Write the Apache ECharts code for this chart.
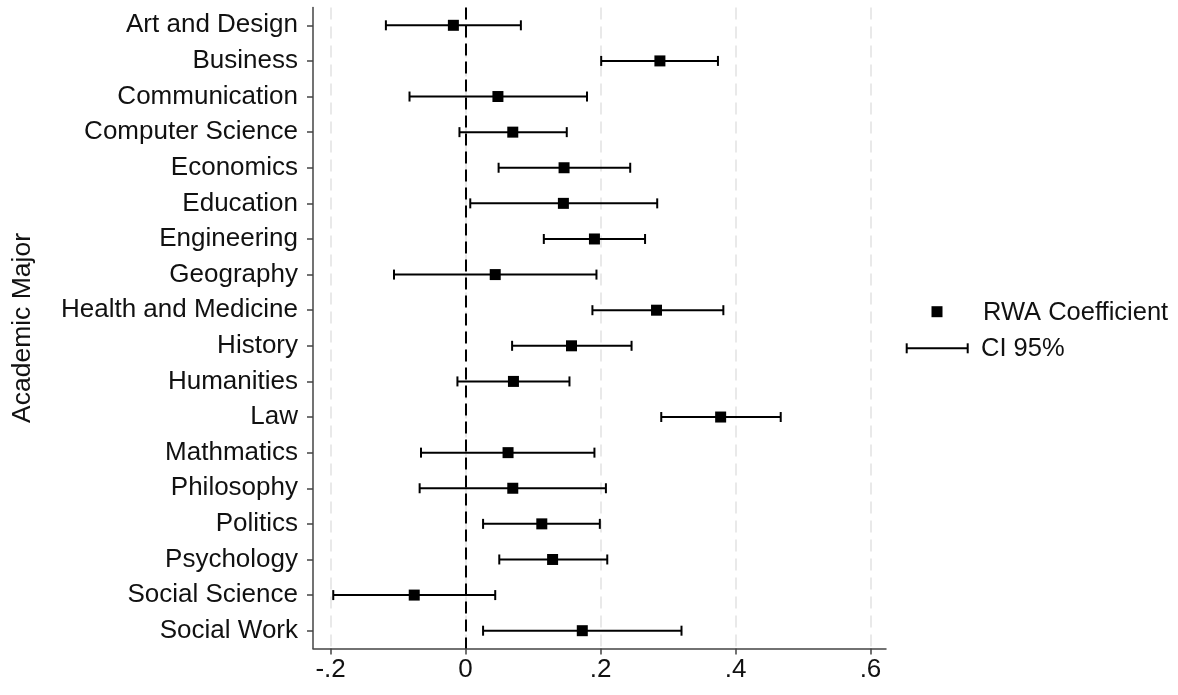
<!DOCTYPE html>
<html>
<head>
<meta charset="utf-8">
<script src="https://cdn.jsdelivr.net/npm/echarts@6/dist/echarts.min.js"></script>
<style>
html,body{margin:0;padding:0;background:#fff;}
#chart{width:1178px;height:695px;}
</style>
</head>
<body>
<div id="chart"></div>
<script>
const categories = ['Art and Design','Business','Communication','Computer Science','Economics','Education','Engineering','Geography','Health and Medicine','History','Humanities','Law','Mathmatics','Philosophy','Politics','Psychology','Social Science','Social Work'];
const coef   = [-0.018, 0.288, 0.048, 0.070, 0.146, 0.145, 0.191, 0.044, 0.283, 0.157, 0.071, 0.378, 0.063, 0.070, 0.113, 0.129, -0.076, 0.173];
const ciLow  = [-0.118, 0.201, -0.083, -0.009, 0.049, 0.007, 0.116, -0.106, 0.188, 0.069, -0.012, 0.290, -0.066, -0.068, 0.026, 0.050, -0.196, 0.026];
const ciHigh = [0.082, 0.374, 0.180, 0.150, 0.244, 0.284, 0.266, 0.194, 0.382, 0.246, 0.154, 0.467, 0.191, 0.208, 0.199, 0.210, 0.044, 0.320];
const tickValues = [-0.2, 0, 0.2, 0.4, 0.6];
const tickLabels = ['-.2', '0', '.2', '.4', '.6'];

const FONT = '"Liberation Sans", Arial, Helvetica, sans-serif';
const chart = echarts.init(document.getElementById('chart'), null, {renderer: 'canvas'});

const ciData = categories.map((c, i) => [ciLow[i], ciHigh[i], i]);
const ptData = categories.map((c, i) => [coef[i], i]);

function labelFor(v) {
  for (let k = 0; k < tickValues.length; k++) {
    if (Math.abs(v - tickValues[k]) < 1e-6) return tickLabels[k];
  }
  return '';
}

const option = {
  backgroundColor: '#fff',
  animation: false,
  grid: {left: 313, right: 292, top: 7.5, bottom: 46.5, containLabel: false},
  xAxis: {
    type: 'value',
    min: -0.226,
    max: 0.623,
    splitNumber: 4,
    axisLine: {show: true, onZero: false, lineStyle: {color: '#444', width: 1.5}},
    axisTick: {show: true, length: 6, customValues: tickValues, lineStyle: {color: '#444', width: 1.5}},
    axisLabel: {customValues: tickValues, formatter: labelFor, color: '#111', fontSize: 26, fontFamily: FONT, margin: 8},
    splitLine: {show: true, lineStyle: {color: '#e9e9e9', width: 2, type: [12, 7]}}
  },
  yAxis: {
    type: 'category',
    data: categories,
    inverse: true,
    boundaryGap: true,
    name: 'Academic Major',
    nameLocation: 'middle',
    nameRotate: 90,
    nameGap: 277,
    nameTextStyle: {color: '#111', fontSize: 26.5, fontFamily: FONT},
    axisLine: {show: true, onZero: false, lineStyle: {color: '#444', width: 1.5}},
    axisTick: {show: true, alignWithLabel: true, length: 6, lineStyle: {color: '#444', width: 1.5}},
    axisLabel: {color: '#111', fontSize: 26, fontFamily: FONT, margin: 15, interval: 0},
    splitLine: {show: false}
  },
  series: [
    {
      name: 'CI 95%',
      type: 'custom',
      data: ciData,
      encode: {x: [0, 1], y: 2},
      z: 2,
      renderItem: function (params, api) {
        const lo = api.coord([api.value(0), api.value(2)]);
        const hi = api.coord([api.value(1), api.value(2)]);
        const h = 5;
        const style = {stroke: '#000', lineWidth: 2};
        return {
          type: 'group',
          children: [
            {type: 'line', shape: {x1: lo[0], y1: lo[1], x2: hi[0], y2: hi[1]}, style: style},
            {type: 'line', shape: {x1: lo[0], y1: lo[1] - h, x2: lo[0], y2: lo[1] + h}, style: style},
            {type: 'line', shape: {x1: hi[0], y1: hi[1] - h, x2: hi[0], y2: hi[1] + h}, style: style}
          ]
        };
      }
    },
    {
      name: 'RWA Coefficient',
      type: 'scatter',
      data: ptData,
      symbol: 'rect',
      symbolSize: 11,
      z: 3,
      itemStyle: {color: '#000', opacity: 1},
      markLine: {
        silent: true,
        symbol: 'none',
        label: {show: false},
        lineStyle: {color: '#000', width: 2, type: [12, 6], opacity: 1},
        data: [{xAxis: 0}],
        z: 1
      }
    }
  ],
  graphic: [
    {type: 'rect', left: 931.5, top: 306.2, shape: {width: 11, height: 11}, style: {fill: '#000'}},
    {type: 'text', x: 983, y: 312.5, style: {text: 'RWA Coefficient', fill: '#111', fontSize: 25.5, fontFamily: FONT, verticalAlign: 'middle'}},
    {type: 'line', shape: {x1: 906.7, y1: 348.3, x2: 967.7, y2: 348.3}, style: {stroke: '#000', lineWidth: 2}},
    {type: 'line', shape: {x1: 906.7, y1: 343.3, x2: 906.7, y2: 353.3}, style: {stroke: '#000', lineWidth: 2}},
    {type: 'line', shape: {x1: 967.7, y1: 343.3, x2: 967.7, y2: 353.3}, style: {stroke: '#000', lineWidth: 2}},
    {type: 'text', x: 981, y: 348.5, style: {text: 'CI 95%', fill: '#111', fontSize: 25.5, fontFamily: FONT, verticalAlign: 'middle'}}
  ]
};
chart.setOption(option);
</script>
</body>
</html>
